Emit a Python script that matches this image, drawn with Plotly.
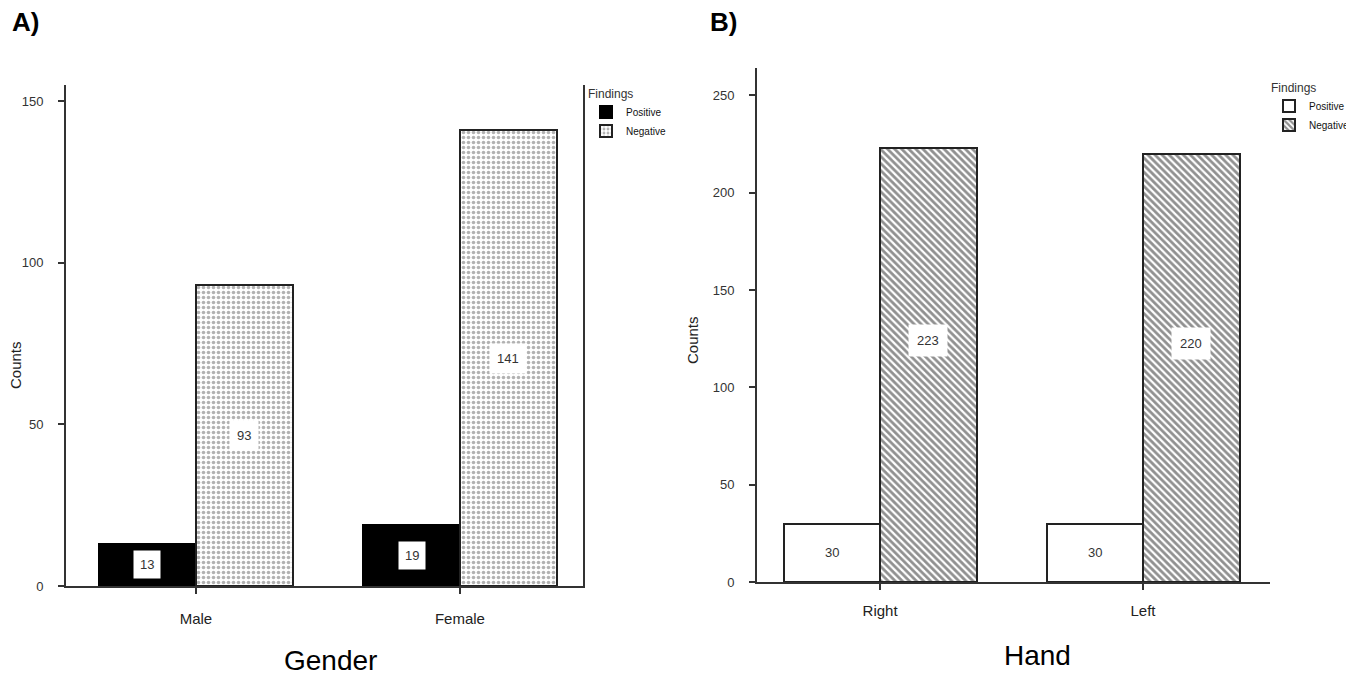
import plotly.graph_objects as go

# page body has an 8px margin; shift all pixel positions accordingly
OFF = 8
W, H = 1354 - OFF, 680 - OFF

gender_cats = ["Male", "Female"]
gender_pos = [13, 19]
gender_neg = [93, 141]

hand_cats = ["Right", "Left"]
hand_pos = [30, 30]
hand_neg = [223, 220]

bw = 0.367
FONT = "Liberation Sans, Arial, sans-serif"

def px_x(p):
    return (p - OFF) / W

def px_y(p):
    return 1 - (p - OFF) / H

fig = go.Figure()

# Panel A
xa = [i - bw / 2 for i in range(len(gender_cats))]
xb = [i + bw / 2 for i in range(len(gender_cats))]
fig.add_trace(go.Bar(x=xa, y=gender_pos, width=bw, name="Positive",
                     marker=dict(color="black", line=dict(color="black", width=2)),
                     xaxis="x", yaxis="y", legend="legend"))
fig.add_trace(go.Bar(x=xb, y=gender_neg, width=bw, name="Negative",
                     marker=dict(color="white", line=dict(color="#222", width=2),
                                 pattern=dict(shape=".", fgcolor="#666", bgcolor="white",
                                              size=5, solidity=0.4)),
                     xaxis="x", yaxis="y", legend="legend"))

# Panel B
xa2 = [i - bw / 2 for i in range(len(hand_cats))]
xb2 = [i + bw / 2 for i in range(len(hand_cats))]
fig.add_trace(go.Bar(x=xa2, y=hand_pos, width=bw, name="Positive",
                     marker=dict(color="white", line=dict(color="#222", width=2)),
                     xaxis="x2", yaxis="y2", legend="legend2"))
fig.add_trace(go.Bar(x=xb2, y=hand_neg, width=bw, name="Negative",
                     marker=dict(color="white", line=dict(color="#222", width=2),
                                 pattern=dict(shape="\\", fgcolor="#222", bgcolor="white",
                                              size=5, solidity=0.55)),
                     xaxis="x2", yaxis="y2", legend="legend2"))

annotations = []
# value labels
for xs, vals, ax, ay, pad in [(xa, gender_pos, "x", "y", 6), (xb, gender_neg, "x", "y", 7),
                              (xa2, hand_pos, "x2", "y2", 7), (xb2, hand_neg, "x2", "y2", 8)]:
    for x, v in zip(xs, vals):
        yv = v / 2 if ay == "y" or v < 100 else v * 0.556
        annotations.append(dict(x=x, y=yv, xref=ax, yref=ay, text=str(v), showarrow=False,
                                bgcolor="white", borderpad=pad,
                                font=dict(size=13, color="#333", family=FONT)))

# panel letters, titles
annotations += [
    dict(x=px_x(10), y=px_y(22), xref="paper", yref="paper", text="<b>A)</b>", showarrow=False,
         xanchor="left", yanchor="middle", font=dict(size=26, color="black", family=FONT)),
    dict(x=px_x(708), y=px_y(22), xref="paper", yref="paper", text="<b>B)</b>", showarrow=False,
         xanchor="left", yanchor="middle", font=dict(size=26, color="black", family=FONT)),
    dict(x=px_x(330), y=px_y(660), xref="paper", yref="paper", text="Gender", showarrow=False,
         xanchor="center", yanchor="middle", font=dict(size=28, color="black", family=FONT)),
    dict(x=px_x(1037), y=px_y(655), xref="paper", yref="paper", text="Hand", showarrow=False,
         xanchor="center", yanchor="middle", font=dict(size=28, color="black", family=FONT)),
    dict(x=px_x(15), y=px_y(365), xref="paper", yref="paper", text="Counts", showarrow=False,
         textangle=-90, xanchor="center", yanchor="middle", font=dict(size=15, color="#222", family=FONT)),
    dict(x=px_x(692), y=px_y(340), xref="paper", yref="paper", text="Counts", showarrow=False,
         textangle=-90, xanchor="center", yanchor="middle", font=dict(size=15, color="#222", family=FONT)),
]

axis_common = dict(showgrid=False, zeroline=False, showline=True, linecolor="#333", linewidth=2,
                   ticks="outside", ticklen=6, tickcolor="#333", tickwidth=2, automargin=False)

fig.update_layout(
    width=W, height=H, margin=dict(l=0, r=0, t=0, b=0),
    paper_bgcolor="white", plot_bgcolor="white",
    barmode="overlay", bargap=0,
    font=dict(family=FONT, color="#333"),
    xaxis=dict(domain=[px_x(66), px_x(583)], range=[-0.492, 1.466],
               tickvals=list(range(len(gender_cats))), ticktext=gender_cats,
               tickfont=dict(size=15, color="#222"), ticklabelstandoff=12, anchor="y",
               **axis_common),
    yaxis=dict(domain=[px_y(586), px_y(85)], range=[0, 155], tickvals=[0, 50, 100, 150],
               tickfont=dict(size=13, color="#333"), ticklabelstandoff=12, anchor="x",
               mirror=True, **axis_common),
    xaxis2=dict(domain=[px_x(757), px_x(1270)], range=[-0.468, 1.483],
                tickvals=list(range(len(hand_cats))), ticktext=hand_cats,
                tickfont=dict(size=15, color="#222"), ticklabelstandoff=8, anchor="y2",
                **axis_common),
    yaxis2=dict(domain=[px_y(582), px_y(68)], range=[0, 264], tickvals=[0, 50, 100, 150, 200, 250],
                tickfont=dict(size=13, color="#333"), ticklabelstandoff=12, anchor="x2",
                **axis_common),
    legend=dict(x=px_x(586), y=px_y(82), xanchor="left", yanchor="top",
                title=dict(text="Findings", font=dict(size=12, color="#333")),
                font=dict(size=10, color="#111"), itemwidth=30, tracegroupgap=0,
                bgcolor="rgba(0,0,0,0)"),
    legend2=dict(x=1, y=px_y(76), xanchor="right", yanchor="top",
                 title=dict(text="Findings", font=dict(size=12, color="#333")),
                 font=dict(size=10, color="#111"), itemwidth=30, tracegroupgap=0,
                 bgcolor="rgba(0,0,0,0)"),
    annotations=annotations,
    showlegend=True,
)

fig.write_html("out.html")
